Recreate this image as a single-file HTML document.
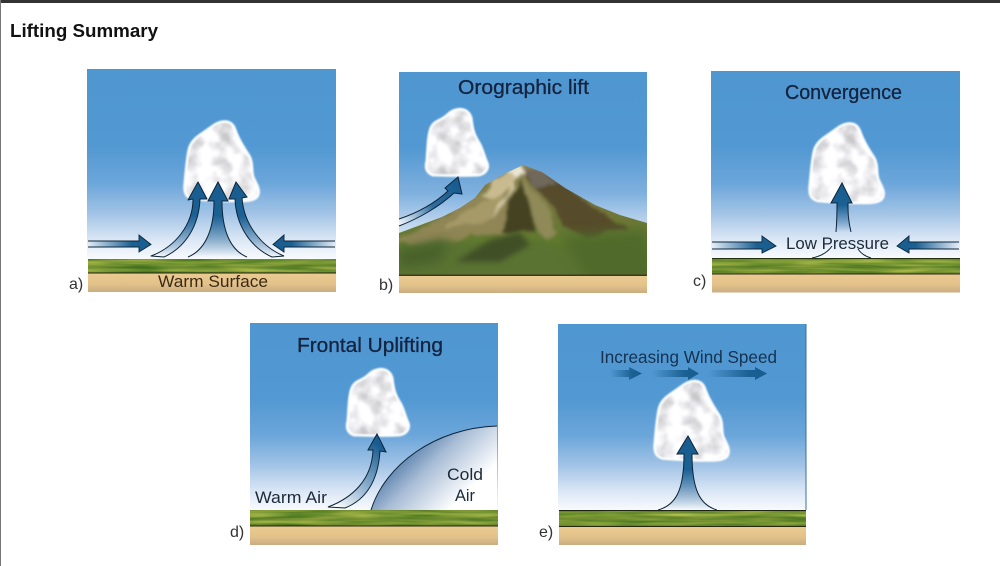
<!DOCTYPE html>
<html><head><meta charset="utf-8"><style>
html,body{margin:0;padding:0;background:#fff;width:1000px;height:566px;overflow:hidden}
svg{display:block}
text{font-family:"Liberation Sans",sans-serif}
.t{stroke:#14233f;stroke-width:.3}
</style></head><body>
<svg width="1000" height="566" viewBox="0 0 1000 566" xmlns="http://www.w3.org/2000/svg">
<defs>
<linearGradient id="sky" x1="0" y1="0" x2="0" y2="1">
<stop offset="0" stop-color="#4f97d1"/><stop offset=".4" stop-color="#5298d2"/><stop offset=".6" stop-color="#6ba6da"/><stop offset=".76" stop-color="#a2c3e6"/><stop offset=".9" stop-color="#dbe7f5"/><stop offset="1" stop-color="#f8fafd"/>
</linearGradient>
<linearGradient id="skyb" gradientUnits="userSpaceOnUse" x1="0" y1="72" x2="0" y2="240">
<stop offset="0" stop-color="#4f97d1"/><stop offset=".45" stop-color="#5298d2"/><stop offset=".72" stop-color="#7fb0de"/><stop offset="1" stop-color="#dfe9f6"/>
</linearGradient>
<linearGradient id="sand" x1="0" y1="0" x2="0" y2="1">
<stop offset="0" stop-color="#eccb92"/><stop offset=".55" stop-color="#e3c28a"/><stop offset="1" stop-color="#c9ad82"/>
</linearGradient>
<linearGradient id="shade" x1="0" y1="0" x2="0" y2="1">
<stop offset="0" stop-color="#2c4a14" stop-opacity=".3"/><stop offset=".3" stop-color="#2c4a14" stop-opacity="0"/><stop offset=".55" stop-color="#2c4a14" stop-opacity=".25"/><stop offset=".8" stop-color="#2c4a14" stop-opacity="0"/><stop offset="1" stop-color="#2c4a14" stop-opacity=".4"/>
</linearGradient>
<linearGradient id="up" x1="0" y1="1" x2="0" y2="0">
<stop offset="0" stop-color="#1b6092" stop-opacity="0"/><stop offset=".28" stop-color="#2a6a9c" stop-opacity=".55"/><stop offset=".55" stop-color="#1b6092"/><stop offset="1" stop-color="#195d90"/>
</linearGradient>
<linearGradient id="right" x1="0" y1="0" x2="1" y2="0">
<stop offset="0" stop-color="#1b6092" stop-opacity="0"/><stop offset=".7" stop-color="#1b6092"/><stop offset="1" stop-color="#195d90"/>
</linearGradient>
<linearGradient id="left" x1="1" y1="0" x2="0" y2="0">
<stop offset="0" stop-color="#1b6092" stop-opacity="0"/><stop offset=".7" stop-color="#1b6092"/><stop offset="1" stop-color="#195d90"/>
</linearGradient>
<linearGradient id="orog" gradientUnits="userSpaceOnUse" x1="399" y1="224" x2="455" y2="185">
<stop offset="0" stop-color="#fff" stop-opacity=".75"/><stop offset=".55" stop-color="#2f6d9f"/><stop offset="1" stop-color="#195d90"/>
</linearGradient>
<linearGradient id="warm" gradientUnits="userSpaceOnUse" x1="335" y1="508" x2="378" y2="445">
<stop offset="0" stop-color="#fff"/><stop offset=".45" stop-color="#8fb0cf"/><stop offset="1" stop-color="#195d90"/>
</linearGradient>
<linearGradient id="cold" gradientUnits="userSpaceOnUse" x1="405" y1="440" x2="462" y2="498">
<stop offset="0" stop-color="#3f6c9f"/><stop offset=".45" stop-color="#a9bdd6"/><stop offset="1" stop-color="#fff"/>
</linearGradient>
<linearGradient id="mtn" gradientUnits="userSpaceOnUse" x1="0" y1="165" x2="0" y2="275">
<stop offset="0" stop-color="#8d8153"/><stop offset=".4" stop-color="#74763c"/><stop offset=".7" stop-color="#5f7a2e"/><stop offset="1" stop-color="#52692a"/>
</linearGradient>
<filter id="puff" x="-5%" y="-5%" width="110%" height="110%" color-interpolation-filters="sRGB">
<feTurbulence type="fractalNoise" baseFrequency=".06" numOctaves="3" seed="5"/>
<feColorMatrix values=".55 0 0 0 .68  .55 0 0 0 .68  .55 0 0 0 .69  0 0 0 0 1"/>
<feGaussianBlur stdDeviation="1.1"/>
<feComposite in2="SourceAlpha" operator="in"/>
</filter>
<filter id="grassf" x="0" y="0" width="100%" height="100%" color-interpolation-filters="sRGB">
<feTurbulence type="fractalNoise" baseFrequency=".018 .3" numOctaves="2" seed="3"/>
<feColorMatrix values=".6 0 0 0 .2  .4 0 0 0 .42  .25 0 0 0 .09  0 0 0 0 1"/>
<feComposite in2="SourceAlpha" operator="in"/>
</filter>
<filter id="paint" x="-5%" y="-5%" width="110%" height="110%">
<feTurbulence type="fractalNoise" baseFrequency=".05" numOctaves="3" seed="8" result="n"/>
<feDisplacementMap in="SourceGraphic" in2="n" scale="12" xChannelSelector="R" yChannelSelector="G"/>
<feGaussianBlur stdDeviation="1.7"/>
</filter>
<filter id="b1" x="-20%" y="-20%" width="140%" height="140%"><feGaussianBlur stdDeviation=".9"/></filter>
<filter id="b2" x="-20%" y="-20%" width="140%" height="140%"><feGaussianBlur stdDeviation="3"/></filter>
<filter id="b4" x="-30%" y="-30%" width="160%" height="160%"><feGaussianBlur stdDeviation="6"/></filter>
<path id="ca" d="M222 122C229 121 233 124 235 130C238 139 243 147 249 156C253 163 251 171 253 177C256 184 260 189 258 195C256 201 246 201 236 201C220 201 205 200 193 199C185 197 184 191 185 183C186 172 187 160 189 150C191 140 199 136 206 131C212 127 216 123 222 122Z"/>
<path id="cb" d="M456 110C463 108 469 111 471 118C472 127 473 134 479 143C483 150 484 157 487 163C489 169 485 174 478 175C462 176 445 175 433 175C427 173 425 168 427 161C428 148 428 136 431 128C434 121 440 121 445 117C449 114 451 111 456 110Z"/>
<g id="cloudA">
<use href="#ca" fill="none" stroke="#b4d4ee" stroke-width="3.5" filter="url(#b1)"/>
<use href="#ca" fill="#fff" filter="url(#puff)"/>
<use href="#ca" fill="none" stroke="#fff" stroke-width="2" filter="url(#b1)"/>
</g>
<g id="cloudB">
<use href="#cb" fill="none" stroke="#b4d4ee" stroke-width="3.5" filter="url(#b1)"/>
<use href="#cb" fill="#fff" filter="url(#puff)"/>
<use href="#cb" fill="none" stroke="#fff" stroke-width="2" filter="url(#b1)"/>
</g>
<clipPath id="mclip"><path d="M399 233L442 217L460 208L475 198L485 185L508 172L523 165L542 172L565 188L595 205L620 215L647 223L647 275L399 275Z"/></clipPath>
</defs>

<rect x="0" y="0" width="1000" height="3" fill="#333"/>
<rect x="0" y="0" width="1" height="566" fill="#777"/>
<text x="10" y="37" font-size="18" font-weight="bold" fill="#111" textLength="148" lengthAdjust="spacingAndGlyphs">Lifting Summary</text>

<!-- a -->
<rect x="87" y="69" width="249" height="190" fill="url(#sky)"/>
<rect x="88" y="259" width="248" height="14" fill="#7a9a36" filter="url(#grassf)"/>
<rect x="88" y="259" width="248" height="14" fill="url(#shade)"/>
<rect x="88" y="272.500" width="248" height="1" fill="#1c2410"/>
<rect x="88" y="273.500" width="248" height="18.500" fill="url(#sand)"/>
<use href="#cloudA"/>
<g stroke="#0d2438" stroke-width="1" fill="url(#up)">
<path d="M151 256C175 247 193 225 193 199L188 200L198 182L207 199L200 199C199 225 186 247 164 257Z" stroke-linejoin="round"/>
<path d="M272 257C250 247 236 225 235 199L229 199L236 182L247 197L242 198C244 225 262 247 284 256Z"/>
<path d="M188 257C205 250 214 230 214 201L208 201L218 182L228 201L222 201C222 230 230 250 247 257"/>
</g>
<path d="M88 241H139V235L151 244.500L139 252V247H88" fill="url(#right)" stroke="#0d2438" stroke-width=".9"/>
<path d="M335 241H284V235L273 244.500L284 252V247H335" fill="url(#left)" stroke="#0d2438" stroke-width=".9"/>
<text x="158" y="287" font-size="17" fill="#3a2b18" textLength="110" lengthAdjust="spacingAndGlyphs">Warm Surface</text>
<text x="69" y="289" font-size="16" fill="#333">a)</text>

<!-- b -->
<rect x="399" y="72" width="248" height="170" fill="url(#skyb)"/>
<g clip-path="url(#mclip)">
<rect x="399" y="160" width="248" height="116" fill="url(#mtn)"/>
<g filter="url(#paint)">
<path d="M395 240L440 218L480 192L515 172L512 205L505 235L470 238L430 250Z" fill="#8f8554"/>
<path d="M440 228L478 205L500 190L505 205L480 225Z" fill="#a69a68"/>
<path d="M523 168L550 176L590 205L625 228L590 236L565 228L545 195Z" fill="#564b2c"/>
<path d="M525 166L545 174L555 184L538 186Z" fill="#6f675a"/>
<path d="M522 178L510 205L503 233L535 232L530 205Z" fill="#454222"/>
<path d="M523 175L540 195L560 232L545 240L530 218L525 195Z" fill="#8f8a58"/>
<path d="M519 170L495 180L482 196L494 198L512 184Z" fill="#c9bb90"/>
<path d="M512 178L508 196L497 206L490 218L505 205L515 188Z" fill="#d3c9a4"/>
<path d="M508 172L523 165L528 172L514 180Z" fill="#ece5d3"/>
</g>
<path d="M395 250L440 240L480 245L540 240L600 262L600 285L395 285Z" fill="#5a7330" filter="url(#b2)"/>
<path d="M455 262L490 240L520 232L530 245L500 262Z" fill="#414f26" filter="url(#b2)"/>
<path d="M560 236L647 230L650 285L590 285Z" fill="#4f6b2a" filter="url(#b4)"/>
<path d="M399 250L450 240L440 262L399 268Z" fill="#47602a" filter="url(#b4)"/>
</g>
<rect x="399" y="274.500" width="248" height="1.500" fill="#3d3a1c"/>
<rect x="399" y="276" width="248" height="17" fill="url(#sand)"/>
<use href="#cloudB"/>
<path d="M399 219C420 212 436 202 448 191L445 188L458 177L462 194L454 193C440 206 420 218 399 226" fill="url(#orog)" stroke="#0d2438" stroke-width="1"/>
<text class="t" x="458" y="94" font-size="20" fill="#14233f" textLength="131" lengthAdjust="spacingAndGlyphs">Orographic lift</text>
<text x="379" y="290" font-size="16" fill="#333">b)</text>

<!-- c -->
<rect x="711" y="71" width="249" height="187" fill="url(#sky)"/>
<rect x="712" y="258" width="248" height="16" fill="#7a9a36" filter="url(#grassf)"/>
<rect x="712" y="258" width="248" height="16" fill="url(#shade)"/>
<rect x="712" y="258" width="248" height="1" fill="#23300f"/>
<rect x="712" y="273.500" width="248" height="1" fill="#2a2a14"/>
<rect x="712" y="274.500" width="248" height="18" fill="url(#sand)"/>
<use href="#cloudA" transform="translate(625 2)"/>
<path d="M837 232C836 220 837 212 837 203H831L842 183L852 203H848C848 212 848 220 851 232Z" fill="url(#up)"/>
<path d="M836 232C837 220 837 212 837 203H831L842 183L852 203H848C848 212 848 220 851 232" fill="none" stroke="#0d2438" stroke-width="1"/>
<path d="M812 258C822 256 828 252 832 246M871 258C864 256 860 252 858 249" fill="none" stroke="#0d2438" stroke-width="1"/>
<path d="M712 242H762V236L776 246L762 253V249H712" fill="url(#right)" stroke="#0d2438" stroke-width=".9"/>
<path d="M959 242H909V236L897 246L909 253V249H959" fill="url(#left)" stroke="#0d2438" stroke-width=".9"/>
<text x="786" y="249" font-size="17" fill="#1d2a3a" textLength="103" lengthAdjust="spacingAndGlyphs">Low Pressure</text>
<text class="t" x="785" y="99" font-size="20" fill="#14233f" textLength="117" lengthAdjust="spacingAndGlyphs">Convergence</text>
<text x="693" y="286" font-size="16" fill="#333">c)</text>

<!-- d -->
<rect x="250" y="323" width="248" height="187" fill="url(#sky)"/>
<path d="M371 510C385 465 435 428 497 426V510Z" fill="url(#cold)"/>
<path d="M371 510C385 465 435 428 497 426" fill="none" stroke="#0d2438" stroke-width="1"/>
<rect x="250" y="510" width="248" height="16" fill="#7a9a36" filter="url(#grassf)"/>
<rect x="250" y="510" width="248" height="16" fill="url(#shade)"/>
<rect x="250" y="525.500" width="248" height="1" fill="#23280f"/>
<rect x="250" y="526.500" width="248" height="18.500" fill="url(#sand)"/>
<use href="#cloudB" transform="translate(-79 260)"/>
<path d="M328 507C352 498 372 480 373 450H368L377 434L386 452L380 451C378 482 365 500 345 508Z" fill="url(#warm)" stroke="#0d2438" stroke-width="1"/>
<text x="255" y="503" font-size="17" fill="#1d2a3a" textLength="72" lengthAdjust="spacingAndGlyphs">Warm Air</text>
<text x="447" y="480" font-size="17" fill="#1d2a3a" textLength="36" lengthAdjust="spacingAndGlyphs">Cold</text>
<text x="455" y="501" font-size="17" fill="#1d2a3a" textLength="20" lengthAdjust="spacingAndGlyphs">Air</text>
<text class="t" x="297" y="352" font-size="20" fill="#14233f" textLength="146" lengthAdjust="spacingAndGlyphs">Frontal Uplifting</text>
<text x="230" y="537" font-size="16" fill="#333">d)</text>

<!-- e -->
<rect x="558" y="324" width="248" height="186" fill="url(#sky)"/>
<rect x="805.500" y="324" width="1" height="186" fill="#3a6f9c"/>
<rect x="559" y="510" width="247" height="16" fill="#7a9a36" filter="url(#grassf)"/>
<rect x="559" y="510" width="247" height="16" fill="url(#shade)"/>
<rect x="559" y="510" width="247" height="1" fill="#1c2410"/>
<rect x="559" y="526" width="247" height="1" fill="#23280f"/>
<rect x="559" y="527" width="247" height="18" fill="url(#sand)"/>
<use href="#cloudA" transform="translate(470 259.500)"/>
<path d="M658 510C676 505 684 490 684 454H677L688 436L698 454H692C692 490 700 505 717 510" fill="url(#up)" stroke="#0d2438" stroke-width="1"/>
<path d="M610 370H629V367L642 373.500L629 380V377H610Z" fill="url(#right)"/>
<path d="M652 370H688V367L699 373.500L688 380V377H652Z" fill="url(#right)"/>
<path d="M708 370H755V367L767 373.500L755 380V377H708Z" fill="url(#right)"/>
<text x="600" y="363" font-size="17.500" fill="#16324f" textLength="177" lengthAdjust="spacingAndGlyphs">Increasing Wind Speed</text>
<text x="539" y="537" font-size="16" fill="#333">e)</text>
</svg>
</body></html>
